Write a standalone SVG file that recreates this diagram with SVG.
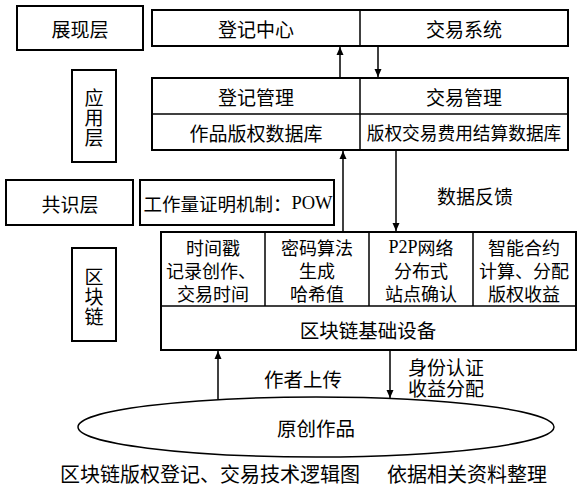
<svg xmlns="http://www.w3.org/2000/svg" width="580" height="486" viewBox="0 0 580 486">
<style>
.box{fill:#fff;stroke:#000;stroke-width:2}
.ln{stroke:#000;stroke-width:1.5;fill:none}
.t{font-family:"Noto Sans CJK SC","Liberation Sans",sans-serif;font-size:19px;fill:#000;text-anchor:middle;dominant-baseline:central}
.s{font-size:18px}
.v{writing-mode:vertical-rl;letter-spacing:1px}
.r{font-family:"Liberation Serif","Noto Sans CJK SC",serif}
</style>
<defs>
<marker id="ah" markerUnits="userSpaceOnUse" markerWidth="8" markerHeight="14" viewBox="0 0 8 14" refX="8" refY="7" orient="auto">
<path d="M0,3.5 L8,7 L0,10.5 Z" fill="#000"/>
</marker>
</defs>
<rect width="580" height="486" fill="#fff"/>

<g id="presentation-layer">
<rect class="box" x="17" y="6" width="126" height="44"/>
<text class="t" x="80" y="28">展现层</text>
</g>
<g id="presentation">
<rect class="box" x="152" y="10" width="416" height="36"/>
<line class="ln" x1="360" y1="10" x2="360" y2="46"/>
<text class="t" x="256" y="28">登记中心</text>
<text class="t" x="464" y="28">交易系统</text>
</g>

<g id="application-layer">
<rect class="box" x="72" y="70" width="44" height="92"/>
<text class="t v" x="94" y="118">应用层</text>
</g>
<g id="application">
<rect class="box" x="152" y="78" width="416" height="72"/>
<line class="ln" x1="152" y1="114" x2="568" y2="114"/>
<line class="ln" x1="360" y1="78" x2="360" y2="150"/>
<text class="t" x="256" y="96">登记管理</text>
<text class="t" x="464" y="96">交易管理</text>
<text class="t" x="256" y="132">作品版权数据库</text>
<text class="t" x="464" y="132" style="font-size:17.7px">版权交易费用结算数据库</text>
</g>

<g id="consensus-layer">
<rect class="box" x="6" y="180" width="127" height="45"/>
<text class="t" x="70" y="203">共识层</text>
</g>
<g id="consensus">
<rect class="box" x="140" y="180" width="194" height="45"/>
<text class="t" x="238" y="203" style="font-size:18.5px">工作量证明机制：<tspan class="r">POW</tspan></text>
</g>

<g id="blockchain-layer">
<rect class="box" x="72" y="248" width="44" height="93"/>
<text class="t v" x="94" y="297">区块链</text>
</g>
<g id="blockchain">
<rect class="box" x="161" y="232" width="415" height="118"/>
<line class="ln" x1="161" y1="306" x2="576" y2="306"/>
<line class="ln" x1="265" y1="232" x2="265" y2="306"/>
<line class="ln" x1="369" y1="232" x2="369" y2="306"/>
<line class="ln" x1="473" y1="232" x2="473" y2="306"/>
<text class="t s"><tspan x="213" y="247">时间戳</tspan><tspan x="211" y="270">记录创作、</tspan><tspan x="213" y="293">交易时间</tspan></text>
<text class="t s"><tspan x="317" y="247">密码算法</tspan><tspan x="317" y="270">生成</tspan><tspan x="317" y="293">哈希值</tspan></text>
<text class="t s"><tspan x="421" y="247"><tspan class="r">P2P</tspan>网络</tspan><tspan x="421" y="270">分布式</tspan><tspan x="421" y="293">站点确认</tspan></text>
<text class="t s"><tspan x="524" y="247">智能合约</tspan><tspan x="524" y="270">计算、分配</tspan><tspan x="524" y="293">版权收益</tspan></text>
<text class="t" x="368" y="329" style="font-size:19.5px">区块链基础设备</text>
</g>

<g id="original-work">
<ellipse cx="316" cy="427" rx="238" ry="30" fill="#fff" stroke="#000" stroke-width="1.5"/>
<text class="t" x="316" y="427" style="font-size:19.5px">原创作品</text>
</g>

<g id="connectors">
<line class="ln" x1="340" y1="78" x2="340" y2="47" marker-end="url(#ah)"/>
<line class="ln" x1="378" y1="47" x2="378" y2="77" marker-end="url(#ah)"/>
<line class="ln" x1="343" y1="232" x2="343" y2="151" marker-end="url(#ah)"/>
<line class="ln" x1="396" y1="150" x2="396" y2="231" marker-end="url(#ah)"/>
<line class="ln" x1="218" y1="399" x2="218" y2="351" marker-end="url(#ah)"/>
<line class="ln" x1="390" y1="350" x2="390" y2="398" marker-end="url(#ah)"/>
<text class="t" x="475" y="195">数据反馈</text>
<text class="t" x="303" y="378" style="font-size:19.5px">作者上传</text>
<text class="t"><tspan x="446" y="366">身份认证</tspan><tspan x="446" y="387">收益分配</tspan></text>
</g>

<g id="caption">
<text class="t" x="210" y="473" style="font-size:20px">区块链版权登记、交易技术逻辑图</text>
<text class="t" x="467" y="473" style="font-size:20px">依据相关资料整理</text>
</g>
</svg>
